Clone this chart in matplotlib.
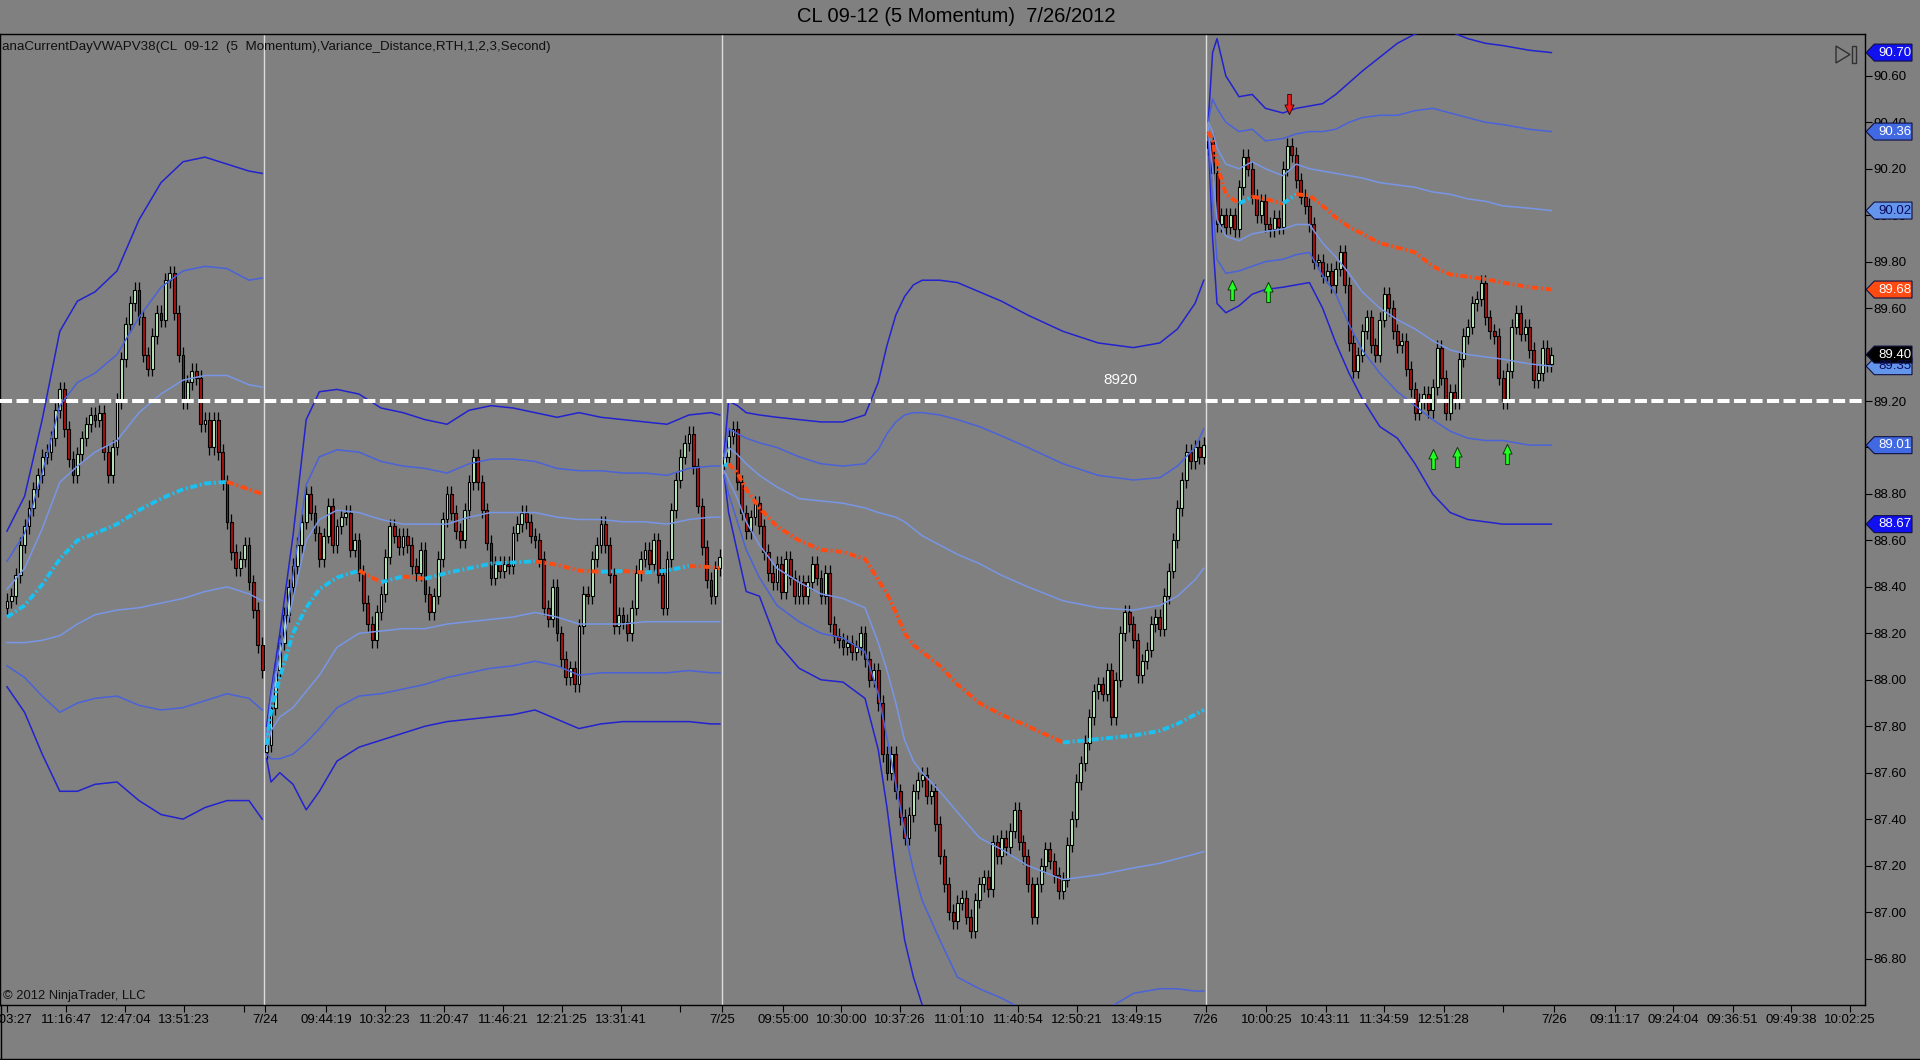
import numpy as np
import matplotlib
matplotlib.use("Agg")
import matplotlib.pyplot as plt
from matplotlib.transforms import blended_transform_factory
from matplotlib.path import Path
from matplotlib.patches import Polygon
from matplotlib.lines import Line2D

plt.rcParams['font.family'] = ['Liberation Sans', 'DejaVu Sans']

# ---------------- data ----------------
# closes of the 5-momentum bars, one list per session
day0_close = [88.34, 88.36, 88.45, 88.58, 88.66, 88.74, 88.82, 88.88, 88.96, 88.98,
              89.04, 89.16, 89.25, 89.08, 88.95, 88.88, 88.97, 89.04, 89.10, 89.14,
              89.12, 89.15, 88.98, 88.88, 89.00, 89.20, 89.38, 89.53, 89.62, 89.68,
              89.56, 89.40, 89.34, 89.48, 89.58, 89.55, 89.72, 89.75, 89.58, 89.40,
              89.20, 89.28, 89.33, 89.30, 89.10, 89.12, 89.00, 89.12, 88.98, 88.85,
              88.68, 88.55, 88.48, 88.52, 88.58, 88.42, 88.30, 88.15, 88.04]
day1_close = [87.72, 87.88, 88.04, 88.16, 88.28, 88.40, 88.49, 88.58, 88.68, 88.80,
              88.72, 88.63, 88.52, 88.62, 88.75, 88.58, 88.66, 88.70, 88.72, 88.56,
              88.60, 88.46, 88.33, 88.24, 88.17, 88.29, 88.37, 88.53, 88.66, 88.62,
              88.57, 88.62, 88.58, 88.49, 88.46, 88.56, 88.37, 88.29, 88.36, 88.52,
              88.69, 88.80, 88.72, 88.64, 88.60, 88.73, 88.85, 88.96, 88.85, 88.73,
              88.59, 88.44, 88.50, 88.47, 88.50, 88.49, 88.63, 88.67, 88.72, 88.68,
              88.62, 88.60, 88.52, 88.31, 88.26, 88.40, 88.20, 88.09, 88.01, 88.05,
              87.98, 88.23, 88.37, 88.36, 88.52, 88.58, 88.67, 88.58, 88.45, 88.23,
              88.28, 88.25, 88.20, 88.31, 88.46, 88.52, 88.56, 88.50, 88.60, 88.45,
              88.31, 88.52, 88.73, 88.86, 88.96, 89.02, 89.06, 88.92, 88.75, 88.57,
              88.43, 88.36, 88.48, 88.53]
day2_close = [88.96, 89.05, 89.08, 88.85, 88.72, 88.64, 88.70, 88.76, 88.66, 88.55,
              88.46, 88.42, 88.50, 88.38, 88.52, 88.44, 88.36, 88.42, 88.36, 88.42,
              88.50, 88.44, 88.36, 88.46, 88.24, 88.19, 88.17, 88.14, 88.16, 88.12,
              88.14, 88.20, 88.09, 88.00, 88.04, 87.90, 87.68, 87.60, 87.68, 87.52,
              87.41, 87.32, 87.42, 87.52, 87.57, 87.59, 87.50, 87.52, 87.38, 87.24,
              87.12, 87.00, 86.96, 87.04, 87.06, 86.98, 86.92, 87.05, 87.12, 87.15,
              87.10, 87.30, 87.24, 87.32, 87.28, 87.35, 87.44, 87.30, 87.24, 87.12,
              86.98, 87.12, 87.20, 87.27, 87.22, 87.16, 87.09, 87.14, 87.29, 87.40,
              87.56, 87.64, 87.73, 87.84, 87.95, 87.98, 87.94, 88.04, 87.84, 88.00,
              88.20, 88.29, 88.24, 88.17, 88.02, 88.08, 88.13, 88.24, 88.27, 88.22,
              88.36, 88.47, 88.60, 88.74, 88.86, 88.98, 88.94, 89.00, 88.96, 89.01]
day3_close = [90.32, 90.18, 89.96, 90.00, 89.95, 90.00, 89.94, 90.12, 90.25, 90.20,
              90.08, 90.00, 90.06, 89.96, 89.94, 89.99, 89.95, 90.20, 90.30, 90.26,
              90.15, 90.08, 90.04, 89.96, 89.80, 89.80, 89.74, 89.76, 89.70, 89.77,
              89.84, 89.70, 89.45, 89.33, 89.40, 89.50, 89.56, 89.44, 89.40, 89.55,
              89.66, 89.60, 89.50, 89.44, 89.46, 89.34, 89.25, 89.15, 89.20, 89.23,
              89.16, 89.26, 89.43, 89.30, 89.15, 89.24, 89.20, 89.38, 89.48, 89.52,
              89.62, 89.64, 89.71, 89.56, 89.50, 89.48, 89.30, 89.20, 89.33, 89.52,
              89.58, 89.49, 89.52, 89.42, 89.29, 89.32, 89.43, 89.36, 89.40]

# VWAP and variance bands, sampled at bar numbers (one list per session)
band_bars = [
    [0, 4, 8, 12, 16, 20, 25, 30, 35, 40, 45, 50, 55, 58],
    [59, 60, 62, 65, 68, 71, 75, 80, 85, 90, 95, 100, 105, 110, 115, 120, 125, 130,
     135, 140, 145, 150, 155, 160, 162],
    [163, 164, 166, 168, 171, 175, 180, 185, 190, 195, 198, 200, 202, 204, 206, 208,
     212, 216, 221, 226, 232, 240, 248, 256, 262, 266, 270, 272],
    [273, 274, 275, 277, 280, 283, 286, 290, 293, 296, 299, 302, 305, 308, 312, 316,
     320, 324, 328, 332, 336, 340, 346, 351],
]
upper3 = [
    [88.64, 88.79, 89.12, 89.50, 89.63, 89.67, 89.76, 89.98, 90.14, 90.23, 90.25, 90.22, 90.19, 90.18],
    [87.80, 87.95, 88.20, 88.62, 89.12, 89.24, 89.25, 89.23, 89.17, 89.15, 89.12, 89.10, 89.16,
     89.18, 89.17, 89.15, 89.13, 89.15, 89.13, 89.12, 89.11, 89.10, 89.14, 89.15, 89.14],
    [88.98, 89.20, 89.18, 89.15, 89.14, 89.13, 89.12, 89.11, 89.11, 89.14, 89.28, 89.44, 89.57,
     89.65, 89.70, 89.72, 89.72, 89.71, 89.67, 89.63, 89.57, 89.50, 89.45, 89.43, 89.45, 89.51,
     89.62, 89.72],
    [90.40, 90.70, 90.76, 90.60, 90.51, 90.52, 90.46, 90.44, 90.46, 90.47, 90.48, 90.52, 90.57,
     90.62, 90.68, 90.74, 90.78, 90.80, 90.79, 90.76, 90.74, 90.73, 90.71, 90.70],
]
upper2 = [
    [88.51, 88.63, 88.89, 89.18, 89.28, 89.32, 89.40, 89.56, 89.69, 89.76, 89.78, 89.77, 89.72, 89.73],
    [87.76, 87.93, 88.15, 88.45, 88.84, 88.96, 88.99, 88.98, 88.94, 88.92, 88.91, 88.89, 88.93,
     88.95, 88.95, 88.94, 88.91, 88.90, 88.90, 88.89, 88.89, 88.88, 88.91, 88.92, 88.92],
    [88.96, 89.08, 89.06, 89.04, 89.02, 89.00, 88.96, 88.93, 88.92, 88.93, 88.99, 89.06, 89.11,
     89.14, 89.15, 89.15, 89.14, 89.12, 89.09, 89.05, 89.00, 88.93, 88.88, 88.86, 88.87, 88.92,
     89.00, 89.08],
    [90.40, 90.50, 90.46, 90.40, 90.36, 90.37, 90.32, 90.33, 90.35, 90.36, 90.36, 90.37, 90.40,
     90.42, 90.43, 90.43, 90.45, 90.46, 90.44, 90.42, 90.40, 90.39, 90.37, 90.36],
]
upper1 = [
    [88.39, 88.48, 88.65, 88.85, 88.92, 88.98, 89.03, 89.15, 89.23, 89.29, 89.31, 89.31, 89.27, 89.26],
    [87.74, 87.90, 88.10, 88.35, 88.60, 88.69, 88.73, 88.72, 88.69, 88.67, 88.67, 88.67, 88.70,
     88.72, 88.72, 88.72, 88.70, 88.69, 88.69, 88.68, 88.68, 88.67, 88.69, 88.70, 88.70],
    [88.95, 89.00, 88.97, 88.93, 88.88, 88.83, 88.78, 88.77, 88.76, 88.74, 88.72, 88.71, 88.70,
     88.68, 88.65, 88.62, 88.58, 88.54, 88.50, 88.45, 88.40, 88.34, 88.31, 88.30, 88.32, 88.36,
     88.43, 88.48],
    [90.40, 90.36, 90.29, 90.22, 90.20, 90.23, 90.20, 90.17, 90.22, 90.20, 90.19, 90.18, 90.17,
     90.16, 90.14, 90.13, 90.12, 90.10, 90.09, 90.07, 90.06, 90.04, 90.03, 90.02],
]
vwap = [
    [88.27, 88.32, 88.41, 88.52, 88.60, 88.63, 88.67, 88.73, 88.78, 88.82, 88.845, 88.852, 88.82, 88.80],
    [87.72, 87.86, 88.01, 88.20, 88.31, 88.39, 88.44, 88.47, 88.42, 88.445, 88.435, 88.46, 88.48,
     88.50, 88.505, 88.51, 88.495, 88.47, 88.465, 88.468, 88.462, 88.47, 88.49, 88.485, 88.48],
    [88.92, 88.93, 88.89, 88.82, 88.74, 88.66, 88.60, 88.56, 88.55, 88.52, 88.43, 88.37, 88.29,
     88.20, 88.15, 88.12, 88.06, 87.98, 87.90, 87.85, 87.80, 87.73, 87.745, 87.76, 87.78, 87.81,
     87.85, 87.87],
    [90.36, 90.32, 90.22, 90.09, 90.05, 90.08, 90.07, 90.05, 90.09, 90.085, 90.04, 89.99, 89.95,
     89.92, 89.88, 89.86, 89.84, 89.78, 89.745, 89.735, 89.725, 89.71, 89.69, 89.68],
]
lower1 = [
    [88.16, 88.16, 88.17, 88.19, 88.24, 88.28, 88.30, 88.31, 88.33, 88.35, 88.38, 88.40, 88.37, 88.34],
    [87.70, 87.78, 87.84, 87.88, 87.95, 88.02, 88.14, 88.20, 88.21, 88.22, 88.22, 88.24, 88.25,
     88.26, 88.27, 88.29, 88.27, 88.24, 88.24, 88.24, 88.25, 88.25, 88.25, 88.25, 88.25],
    [88.90, 88.86, 88.78, 88.68, 88.58, 88.48, 88.42, 88.37, 88.35, 88.31, 88.16, 88.04, 87.90,
     87.74, 87.65, 87.60, 87.52, 87.43, 87.32, 87.27, 87.20, 87.14, 87.16, 87.19, 87.21, 87.23,
     87.25, 87.26],
    [90.38, 90.20, 89.98, 89.91, 89.89, 89.92, 89.93, 89.94, 89.96, 89.96, 89.88, 89.82, 89.75,
     89.67, 89.60, 89.55, 89.51, 89.46, 89.42, 89.40, 89.39, 89.38, 89.36, 89.35],
]
lower2 = [
    [88.06, 88.01, 87.93, 87.86, 87.90, 87.92, 87.93, 87.89, 87.87, 87.88, 87.91, 87.94, 87.92, 87.87],
    [87.68, 87.66, 87.66, 87.68, 87.73, 87.79, 87.88, 87.93, 87.94, 87.96, 87.98, 88.01, 88.03,
     88.05, 88.06, 88.08, 88.06, 88.02, 88.03, 88.03, 88.03, 88.03, 88.04, 88.03, 88.03],
    [88.88, 88.80, 88.68, 88.56, 88.44, 88.32, 88.25, 88.20, 88.18, 88.12, 87.94, 87.75, 87.55,
     87.35, 87.18, 87.05, 86.88, 86.72, 86.67, 86.63, 86.57, 86.53, 86.56, 86.65, 86.67, 86.67,
     86.66, 86.66],
    [90.36, 90.05, 89.81, 89.75, 89.76, 89.78, 89.80, 89.81, 89.83, 89.84, 89.74, 89.66, 89.53,
     89.42, 89.32, 89.24, 89.18, 89.12, 89.07, 89.04, 89.03, 89.03, 89.01, 89.01],
]
lower3 = [
    [87.97, 87.86, 87.68, 87.52, 87.52, 87.55, 87.56, 87.48, 87.42, 87.40, 87.45, 87.48, 87.48, 87.40],
    [87.66, 87.56, 87.60, 87.55, 87.44, 87.52, 87.65, 87.71, 87.74, 87.77, 87.80, 87.82, 87.83,
     87.84, 87.85, 87.87, 87.83, 87.79, 87.81, 87.82, 87.82, 87.82, 87.82, 87.81, 87.81],
    [88.88, 88.72, 88.55, 88.38, 88.36, 88.16, 88.05, 88.00, 87.99, 87.92, 87.70, 87.45, 87.15,
     86.88, 86.72, 86.60, 86.40, 86.25, 86.13, 86.07, 86.03, 85.96, 86.05, 86.09, 86.11, 86.11,
     86.08, 86.02],
    [90.34, 89.90, 89.62, 89.58, 89.61, 89.66, 89.68, 89.69, 89.70, 89.71, 89.60, 89.45, 89.32,
     89.21, 89.09, 89.04, 88.93, 88.80, 88.72, 88.69, 88.68, 88.67, 88.67, 88.67],
]

# signal arrows (bar, price at arrow centre)
buy_bars = [278.3, 286.7, 324.0, 329.6, 341.0]
buy_prices = [89.68, 89.67, 88.95, 88.96, 88.97]
sell_bars = [291.4]
sell_prices = [90.48]

level_price = 89.20
level_label = "8920"
level_label_pos = (253, 89.29)

session_breaks = [58.5, 162.5, 272.5]

xtick_bars = [0.07, 13.43, 26.93, 40.30, 53.80, 58.6, 72.59, 85.95, 99.32, 112.82, 126.18,
              139.55, 153.02, 162.5, 176.41, 189.64, 203.0, 216.5, 229.8, 243.2, 256.7,
              272.4, 286.2, 299.7, 313.0, 326.5, 339.9, 351.6, 365.4, 378.7, 392.2, 405.5, 418.8]
xtick_labels = ["11:03:27", "11:16:47", "12:47:04", "13:51:23", "", "7/24", "09:44:19",
                "10:32:23", "11:20:47", "11:46:21", "12:21:25", "13:31:41", "", "7/25",
                "09:55:00", "10:30:00", "10:37:26", "11:01:10", "11:40:54", "12:50:21",
                "13:49:15", "7/26", "10:00:25", "10:43:11", "11:34:59", "12:51:28", "",
                "7/26", "09:11:17", "09:24:04", "09:36:51", "09:49:38", "10:02:25"]
ytick_values = [86.8, 87.0, 87.2, 87.4, 87.6, 87.8, 88.0, 88.2, 88.4, 88.6, 88.8, 89.0,
                89.2, 89.4, 89.6, 89.8, 90.0, 90.2, 90.4, 90.6]

title = "CL 09-12 (5 Momentum)  7/26/2012"
indicator_label = "anaCurrentDayVWAPV38(CL  09-12  (5  Momentum),Variance_Distance,RTH,1,2,3,Second)"
copyright_label = "\u00a9 2012 NinjaTrader, LLC"

# ---------------- styles ----------------
BG = "#808080"
UP_COL = "#bff0bf"
DN_COL = "#a81010"
C3 = "#2222d0"
C2 = "#4a62da"
C1 = "#7896e6"
VW_UP = "#19c0f0"
VW_DN = "#ff4a12"
WICK = 0.033

W, H = 1920, 1060
fig = plt.figure(figsize=(W / 100, H / 100), dpi=100, facecolor=BG)
ax_left, ax_right, ax_top, ax_bot = 0, 1865, 34, 1005
ax = fig.add_axes([ax_left / W, 1 - ax_bot / H, (ax_right - ax_left) / W, (ax_bot - ax_top) / H])
ax.set_facecolor(BG)
ax.set_xlim(-1.59, 422.27)
ax.set_ylim(86.60, 90.78)

# session separators
for b in session_breaks:
    ax.axvline(b, color="#dcdcdc", lw=1.0, zorder=1)

# candles
closes = np.array(day0_close + day1_close + day2_close + day3_close)
n = len(closes)
xb = np.arange(n)
session_starts = [0, len(day0_close), len(day0_close) + len(day1_close),
                  len(day0_close) + len(day1_close) + len(day2_close)]
opens = np.empty(n)
opens[1:] = closes[:-1]
for s in session_starts:
    opens[s] = closes[s] - 0.03
up = closes >= opens
lo = np.minimum(opens, closes)
hi = np.maximum(opens, closes)
hgt = np.maximum(hi - lo, 0.008)
ax.vlines(xb, lo - WICK, hi + WICK, color="black", lw=0.9, zorder=3)
ax.bar(xb, hgt, bottom=lo, width=0.68, color=np.where(up, UP_COL, DN_COL),
       edgecolor="black", linewidth=0.8, zorder=4)

# bands
for bands, col in [(upper3, C3), (lower3, C3), (upper2, C2), (lower2, C2), (upper1, C1), (lower1, C1)]:
    for d in range(4):
        ax.plot(band_bars[d], bands[d], color=col, lw=1.1, zorder=5, solid_joinstyle="round")

# VWAP coloured by direction
vw_ls = (0, (1.8, 0.7, 0.5, 0.7))
for d in range(4):
    kx = band_bars[d]
    kv = vwap[d]
    cols = [VW_UP if kv[i + 1] >= kv[i] else VW_DN for i in range(len(kv) - 1)]
    start = 0
    for i in range(1, len(cols) + 1):
        if i == len(cols) or cols[i] != cols[start]:
            ax.plot(kx[start:i + 1], kv[start:i + 1], color=cols[start], lw=2.8,
                    linestyle=vw_ls, zorder=6)
            start = i

# horizontal level
ax.axhline(level_price, color="white", lw=2.9, dashes=(3.0, 1.1), zorder=7)
ax.text(level_label_pos[0], level_label_pos[1], level_label, color="white", fontsize=11,
        ha="center", va="center", zorder=8)

# arrows
up_arrow = Path([(-0.18, -1), (0.18, -1), (0.18, 0.05), (0.45, 0.05), (0, 1),
                 (-0.45, 0.05), (-0.18, 0.05), (-0.18, -1)])
dn_arrow = Path([(x_, -y_) for x_, y_ in up_arrow.vertices])
ax.scatter(buy_bars, buy_prices, marker=up_arrow, s=14.5 ** 2, c="#22ff22",
           edgecolors="#0a3a0a", linewidths=0.7, zorder=9)
ax.scatter(sell_bars, sell_prices, marker=dn_arrow, s=14.5 ** 2, c="#ee1c1c",
           edgecolors="#3a0a0a", linewidths=0.7, zorder=9)

# axes styling
for sp in ax.spines.values():
    sp.set_color("black")
    sp.set_linewidth(1.0)
ax.yaxis.tick_right()
ax.set_yticks(ytick_values)
ax.set_yticklabels(["%.2f" % v for v in ytick_values])
ax.set_xticks(xtick_bars)
ax.set_xticklabels(xtick_labels)
ax.tick_params(axis="y", direction="out", length=5, width=0.8, pad=1, labelsize=9.5,
               colors="black")
ax.tick_params(axis="x", direction="out", length=5, width=0.8, pad=1.5, labelsize=9.5,
               colors="black")

# price markers on the right axis
trans = blended_transform_factory(ax.transAxes, ax.transData)
box_h = 0.073
x_tip, x_body, x_end = 1.0006, 1.0050, 1.0252
markers = [
    (upper3[3][-1], "#1010f0", "white"),
    (upper2[3][-1], "#4169e1", "white"),
    (upper1[3][-1], "#6495ed", "#0a0a5a"),
    (vwap[3][-1], "#ff4a12", "white"),
    (lower1[3][-1], "#6495ed", "#0a0a5a"),
    (closes[-1], "black", "white"),
    (lower2[3][-1], "#4169e1", "white"),
    (lower3[3][-1], "#1010f0", "white"),
]
for val, fc, tc in markers:
    poly = Polygon([(x_tip, val), (x_body, val + box_h / 2), (x_end, val + box_h / 2),
                    (x_end, val - box_h / 2), (x_body, val - box_h / 2)], closed=True,
                   transform=trans, facecolor=fc, edgecolor="#101040", lw=0.8,
                   clip_on=False, zorder=20)
    ax.add_patch(poly)
    ax.text((x_body + x_end) / 2 + 0.0008, val, "%.2f" % val, transform=trans, color=tc,
            fontsize=9.5, ha="center", va="center", clip_on=False, zorder=21)

# texts
fig.text(956 / W, 1 - 16 / H, title, ha="center", va="center", fontsize=14.5, color="black")
fig.text(2 / W, 1 - 47 / H, indicator_label, ha="left", va="center", fontsize=9.6,
         color="#101010")
fig.text(3 / W, 1 - 996 / H, copyright_label, ha="left", va="center", fontsize=9.3,
         color="#101010")

# small "go to end" icon
tri = Polygon([(1836 / W, 1 - 46 / H), (1850 / W, 1 - 54.5 / H), (1836 / W, 1 - 63 / H)],
              closed=True, transform=fig.transFigure, fill=False, edgecolor="#303030", lw=1)
fig.add_artist(tri)
rect = Polygon([(1852 / W, 1 - 46 / H), (1856 / W, 1 - 46 / H), (1856 / W, 1 - 63 / H),
                (1852 / W, 1 - 63 / H)], closed=True, transform=fig.transFigure, fill=False,
               edgecolor="#303030", lw=1)
fig.add_artist(rect)

# outer frame lines
fig.add_artist(Line2D([0, 1], [1.5 / H, 1.5 / H], transform=fig.transFigure, color="black", lw=1))
fig.add_artist(Line2D([0.5 / W, 0.5 / W], [1.5 / H, 1 - ax_bot / H], transform=fig.transFigure,
                      color="black", lw=1))

fig.savefig("out.png", dpi=100, facecolor=BG)
